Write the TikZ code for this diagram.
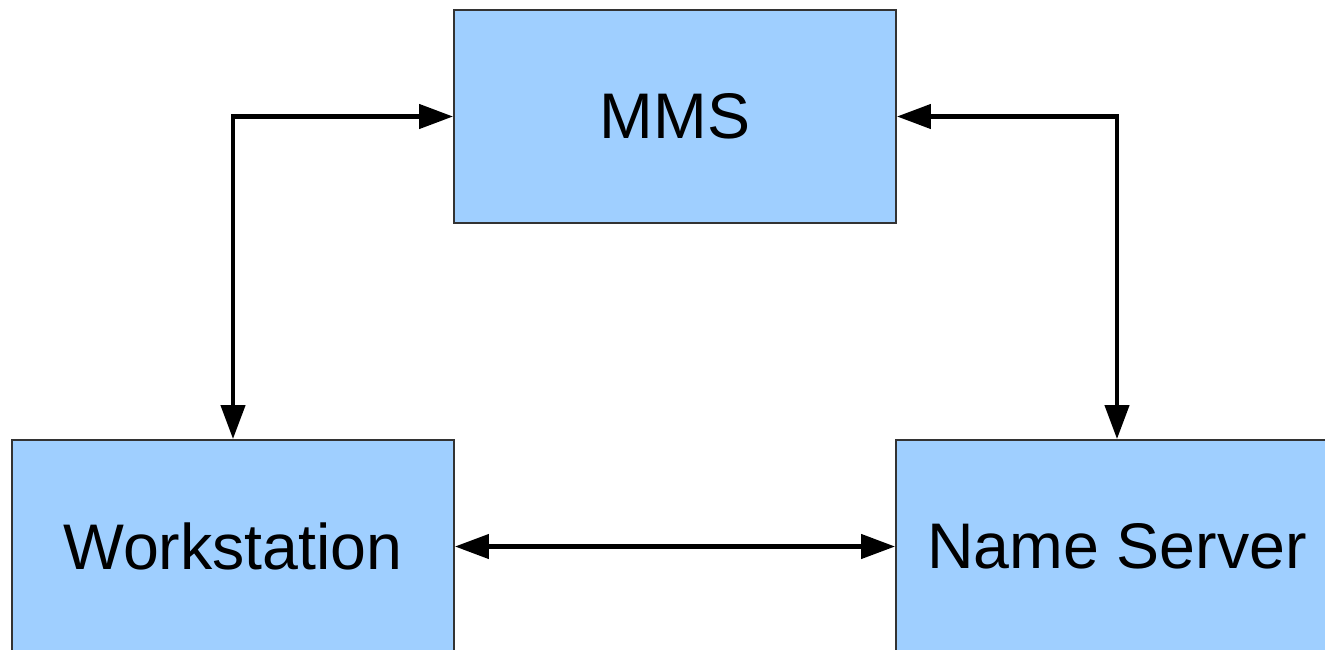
\documentclass[tikz,border=0pt]{standalone}
\usepackage{fontspec}
\setmainfont{Liberation Sans}
\usetikzlibrary{arrows.meta}

\definecolor{boxblue}{HTML}{9FCFFF}
\definecolor{boxedge}{HTML}{333333}

\begin{document}
\begin{tikzpicture}[
    x=0.02cm, y=-0.02cm,
    box/.style={rectangle, draw=boxedge, line width=1.1pt, fill=boxblue,
                minimum width=8.84cm, minimum height=4.26cm,
                inner sep=0pt, font=\fontsize{36.7}{44}\selectfont},
    link/.style={{Triangle[length=6.8mm,width=4.8mm]}-{Triangle[length=6.8mm,width=4.8mm]},
                 line width=2.5pt}
]
  \clip (0,0) rectangle (1325,649);

  % the three hosts
  \node[box] (mms) at (675,116.5) {MMS};
  \node[box] (ws)  at (233,546.5) {Workstation};
  \node[box] (ns)  at (1117,546.5) {Name Server};

  % links between them
  \draw[link] (mms.west) -| (ws.north);
  \draw[link] (mms.east) -| (ns.north);
  \draw[link] (ws.east) -- (ns.west);
\end{tikzpicture}
\end{document}
